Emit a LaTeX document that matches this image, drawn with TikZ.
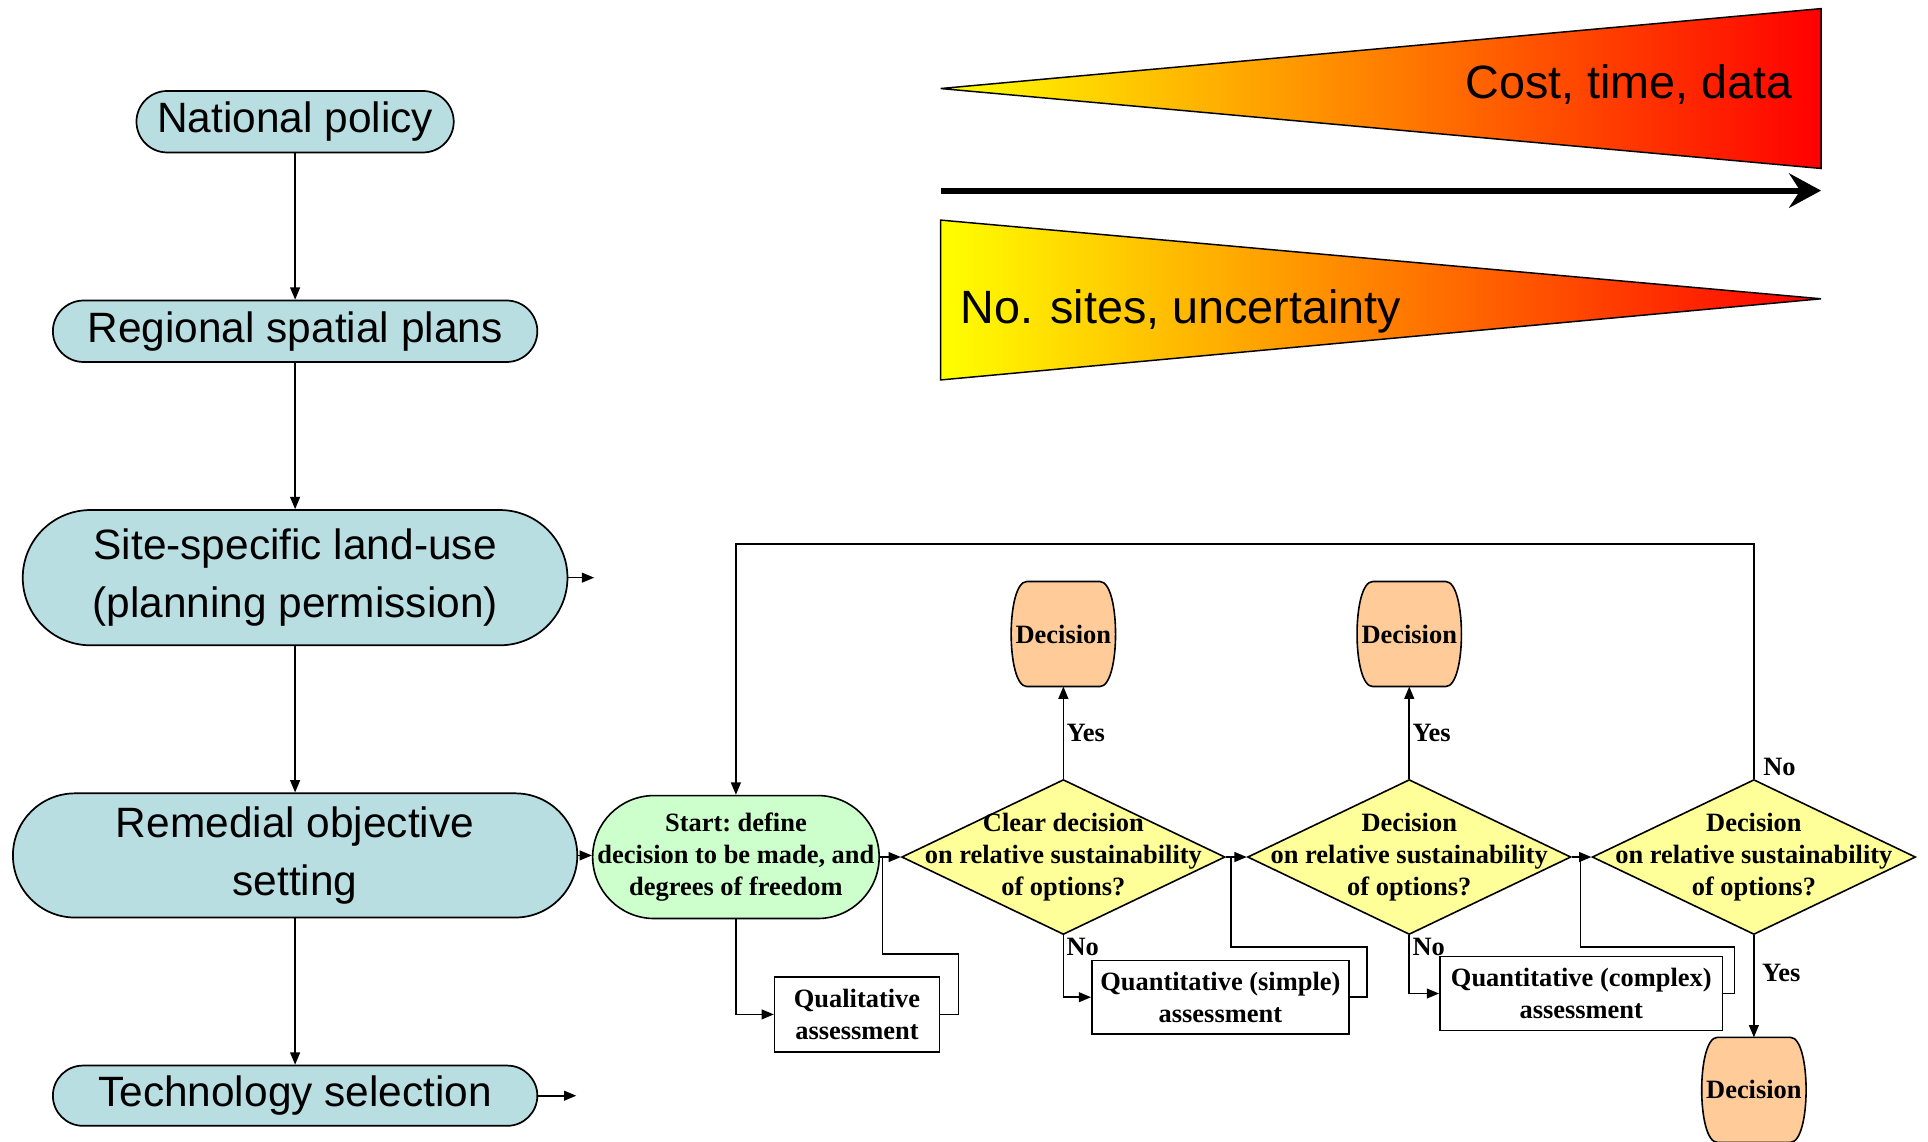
\documentclass[tikz,border=0pt]{standalone}
\usepackage{fontspec}
\setmainfont{Liberation Serif}
\newfontfamily\arialfont{Liberation Sans}
\usepackage{tikz}
\usetikzlibrary{positioning, shapes.geometric, arrows.meta, calc, backgrounds}
\definecolor{landblue}{RGB}{184,222,226}
\definecolor{startgreen}{RGB}{204,255,204}
\definecolor{diayellow}{RGB}{255,255,153}
\definecolor{decorange}{RGB}{255,204,153}
\definecolor{wedgemid}{RGB}{255,190,0}

\begin{document}
\begin{tikzpicture}
        [
            x=1pt, y=-1pt,
            term/.style={rectangle, draw, line width=1.4pt, fill=landblue,
                         rounded corners=#1, minimum height=2*#1, inner sep=0pt,
                         align=center, font=\arialfont\fontsize{34.5}{47}\selectfont},
            qtext/.style={font=\bfseries\frenchspacing\fontsize{21.5}{26}\selectfont,
                          align=center},
            startbox/.style={rectangle, draw, line width=1.3pt, fill=startgreen,
                             rounded corners=50pt, minimum width=233pt,
                             minimum height=100pt, inner sep=0pt},
            dia/.style={diamond, draw, line width=1.3pt, fill=diayellow,
                        minimum width=263pt, minimum height=126pt, inner sep=0pt},
            decbox/.style={rectangle, qtext, minimum width=85pt,
                           minimum height=85pt, inner sep=0pt},
            assess/.style={rectangle, draw, line width=1.3pt, fill=white,
                           minimum height=60pt, inner sep=0pt},
            lbl/.style={qtext, inner sep=2pt},
            wedgetext/.style={font=\arialfont\fontsize{38}{40}\selectfont, inner sep=0pt},
            arr/.style={-{Triangle[length=10pt,width=8pt]}, line width=1.3pt}
        ]
        \useasboundingbox (0,0) rectangle (1568,928);
        \node (natpol) [term=25pt, minimum width=258pt] at (240,99) {National policy};
        \node (regional) [term=25pt, minimum width=394pt, below=119pt of natpol]
              {Regional spatial plans};
        \node (site) [term=55pt, minimum width=443pt, below=119pt of regional]
              {Site-specific land-use\\(planning permission)};
        \node (remedial) [term=50.5pt, minimum width=459pt, below=119pt of site]
              {Remedial objective\\setting};
        \node (techsel) [term=24.5pt, minimum width=394pt, below=119pt of remedial]
              {Technology selection};
        \foreach \i/\j in {natpol/regional, regional/site, site/remedial, remedial/techsel}
            \draw [arr] (\i) -- (\j);
        \coordinate [right=21pt of site] (siteout);
        \coordinate [right=31pt of techsel] (techout);
        \draw [arr] (site.east) -- (siteout);
        \draw [arr] (techsel.east) -- (techout);

        \node (start) [startbox, qtext] at (598.5,697)
              {Start: define\\decision to be made, and\\degrees of freedom};
        \node (d1) [dia, right=17pt of start,
                    label={[qtext]center:Clear decision\\on relative sustainability\\of options?}] {};
        \node (d2) [dia, right=17pt of d1,
                    label={[qtext]center:Decision\\on relative sustainability\\of options?}] {};
        \node (d3) [dia, right=16pt of d2,
                    label={[qtext]center:Decision\\on relative sustainability\\of options?}] {};
        \node (dec1) [decbox, above=75pt of d1] {Decision};
        \node (dec2) [decbox, above=75pt of d2] {Decision};
        \node (dec3) [decbox, below=83pt of d3] {Decision};
        \begin{scope}[on background layer]
            \foreach \n in {dec1, dec2, dec3}
                \draw [line width=1.3pt, fill=decorange]
                      ([xshift=13pt]\n.north west) -- ([xshift=-13pt]\n.north east)
                      .. controls ([xshift=4pt]\n.north east) and ([xshift=4pt]\n.south east)
                      .. ([xshift=-13pt]\n.south east) -- ([xshift=13pt]\n.south west)
                      .. controls ([xshift=-4pt]\n.south west) and ([xshift=-4pt]\n.north west)
                      .. cycle;
        \end{scope}
        \node (qual) [assess, qtext, minimum width=134pt, minimum height=61pt] at (697,825)
              {Qualitative\\assessment};
        \node (quant1) [assess, qtext, minimum width=209pt] at (992.5,811)
              {Quantitative (simple)\\assessment};
        \node (quant2) [assess, qtext, minimum width=230pt] at (1286,808)
              {Quantitative (complex)\\assessment};

        \draw [arr] (remedial.east) -- (remedial.east -| start.west);
        \foreach \i/\j in {start/d1, d1/d2, d2/d3}
            \draw [arr] (\i.east) -- (\j.west);
        \draw [arr] (start.south) |- (qual.west);
        \draw [arr] (d1.south) |- node (no1) [lbl, anchor=north west, pos=0] {No} (quant1.west);
        \draw [arr] (d2.south) |- node (no2) [lbl, anchor=north west, pos=0] {No} (quant2.west);
        \draw [arr] (d1.north) -- node (yes1) [lbl, right] {Yes} (dec1.south);
        \draw [arr] (d2.north) -- node (yes2) [lbl, right] {Yes} (dec2.south);
        \draw [arr] (d3.south) -- node (yes3) [lbl, right, pos=0.37, xshift=4pt] {Yes} (dec3.north);
        \draw [arr] (d3.north) -- node (no3) [lbl, anchor=south west, pos=0, xshift=5pt] {No}
                    ++(0,-191) -| (start.north);
        \coordinate (j1) at ($(start.east)+(2,0)$);
        \coordinate (j2) at ($(d1.east)+(4,0)$);
        \coordinate (j3) at ($(d2.east)+(7,0)$);
        \foreach \b/\j/\dx/\dy in {qual/j1/15/79, quant1/j2/14/73, quant2/j3/9/73}
            \draw [line width=1.3pt] (\b.east) -- ++(\dx,0) |- ($(\j)+(0,\dy)$) -- (\j);

        \shadedraw [line width=1.2pt, left color=yellow, middle color=wedgemid, right color=red]
                   (765,72) -- (1481,7) -- (1481,137) -- cycle;
        \shadedraw [line width=1.2pt, left color=yellow, middle color=wedgemid, right color=red]
                   (765,179) -- (1481,243) -- (765,309) -- cycle;
        \coordinate (axisfrom) at (765,155);
        \coordinate (axisto) at (1481,155);
        \draw [line width=5pt, -{Stealth[length=26pt,width=28pt,inset=9pt]}] (axisfrom) -- (axisto);
        \node (cost) [wedgetext, anchor=base east] at (1458,80.5) {Cost, time, data};
        \node (sites) [wedgetext, anchor=base west] at (781,263.5) {No. sites, uncertainty};
    \end{tikzpicture}
\end{document}
